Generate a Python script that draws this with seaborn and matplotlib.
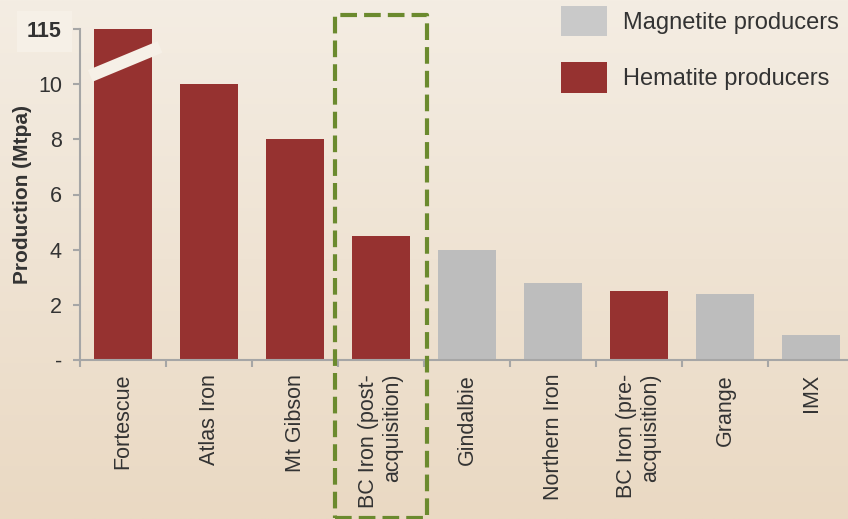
import numpy as np
import pandas as pd
import matplotlib
matplotlib.use("Agg")
import matplotlib.pyplot as plt
import seaborn as sns
from matplotlib.patches import Patch, Rectangle

companies = ["Fortescue", "Atlas Iron", "Mt Gibson", "BC Iron (post-\nacquisition)",
             "Gindalbie", "Northern Iron", "BC Iron (pre-\nacquisition)", "Grange", "IMX"]
# Fortescue is 115 Mtpa, drawn on a broken axis at the top of the scale
production = [12.0, 10.0, 8.0, 4.5, 4.0, 2.8, 2.5, 2.4, 0.9]
producer = ["Hematite", "Hematite", "Hematite", "Hematite", "Magnetite",
            "Magnetite", "Hematite", "Magnetite", "Magnetite"]
ytick_values = [0, 2, 4, 6, 8, 10, 12]
ytick_labels = ["-", "2", "4", "6", "8", "10", "115"]

RED = "#963230"
GREY = "#BDBDBD"
TEXT = "#333333"

df = pd.DataFrame({"Company": companies, "Production": production, "Type": producer})

sns.set_style("white")
plt.rcParams["font.family"] = ["Liberation Sans", "DejaVu Sans"]

fig = plt.figure(figsize=(8.48, 5.19), dpi=100)

# background gradient
bg = fig.add_axes([0, 0, 1, 1], zorder=-1)
top = np.array([244, 237, 227]) / 255
bottom = np.array([234, 217, 195]) / 255
t = np.linspace(0, 1, 256)[:, None, None]
grad = np.repeat(top + (bottom - top) * t, 2, axis=1)
bg.imshow(grad, aspect="auto", extent=[0, 1, 0, 1])
bg.axis("off")

ax = fig.add_axes([80 / 848, 1 - 360 / 519, 768 / 848, 331 / 519])
ax.set_facecolor("none")

sns.barplot(data=df, x="Company", y="Production", hue="Type",
            palette={"Hematite": RED, "Magnetite": GREY},
            dodge=False, width=0.67, legend=False, ax=ax, saturation=1,
            linewidth=0)

ax.set_xlim(-0.5, 8.43)
ax.set_ylim(0, 12)

for s in ["top", "right"]:
    ax.spines[s].set_visible(False)
for s in ["left", "bottom"]:
    ax.spines[s].set_color("#A6A6A6")
    ax.spines[s].set_linewidth(1.5)

ax.set_yticks(ytick_values)
ax.set_yticklabels(ytick_labels)
ax.tick_params(axis="y", length=5, width=1.5, color="#A6A6A6", pad=8,
               labelsize=15.5, labelcolor=TEXT, left=True)
lbl = ax.get_yticklabels()[-1]
lbl.set_fontweight("bold")
lbl.set_bbox(dict(facecolor="#F6F0E7", edgecolor="none", pad=7))

ax.set_xticks(range(len(companies)))
ax.set_xticklabels(companies, rotation=90, ha="center", va="top",
                   multialignment="right")
ax.set_xticks(np.arange(-0.5, 8.5, 1), minor=True)
ax.tick_params(axis="x", which="major", length=0, pad=10, labelsize=15.5,
               labelcolor=TEXT)
ax.tick_params(axis="x", which="minor", length=5, width=1.5,
               color="#A6A6A6", bottom=True)

ax.set_xlabel("")
ax.set_ylabel("Production (Mtpa)", fontsize=15, fontweight="bold", color=TEXT)
ax.yaxis.set_label_coords(-0.0625, 0.5)

# axis break on the Fortescue bar
ax.plot([-0.38, 0.43], [10.3, 11.35], color="#F6F0E7", lw=9,
        solid_capstyle="butt", clip_on=False, zorder=5)

# dashed highlight around BC Iron (post-acquisition)
ax.add_patch(Rectangle((2.465, -5.71), 1.07, 18.2, fill=False,
                       edgecolor="#6B8A2E", lw=3, ls=(0, (4, 1.7)),
                       joinstyle="round", clip_on=False, zorder=6))

handles = [Patch(facecolor="#C9C9C9", edgecolor="none", label="Magnetite producers"),
           Patch(facecolor=RED, edgecolor="none", label="Hematite producers")]
fig.legend(handles=handles, loc="upper left",
           bbox_to_anchor=(561 / 848, 1 - 6 / 519), frameon=False,
           fontsize=17, handlelength=1.95, handleheight=1.6,
           labelspacing=1.1, handletextpad=0.68, borderpad=0,
           borderaxespad=0, labelcolor=TEXT)

fig.savefig("out.png", dpi=100)
